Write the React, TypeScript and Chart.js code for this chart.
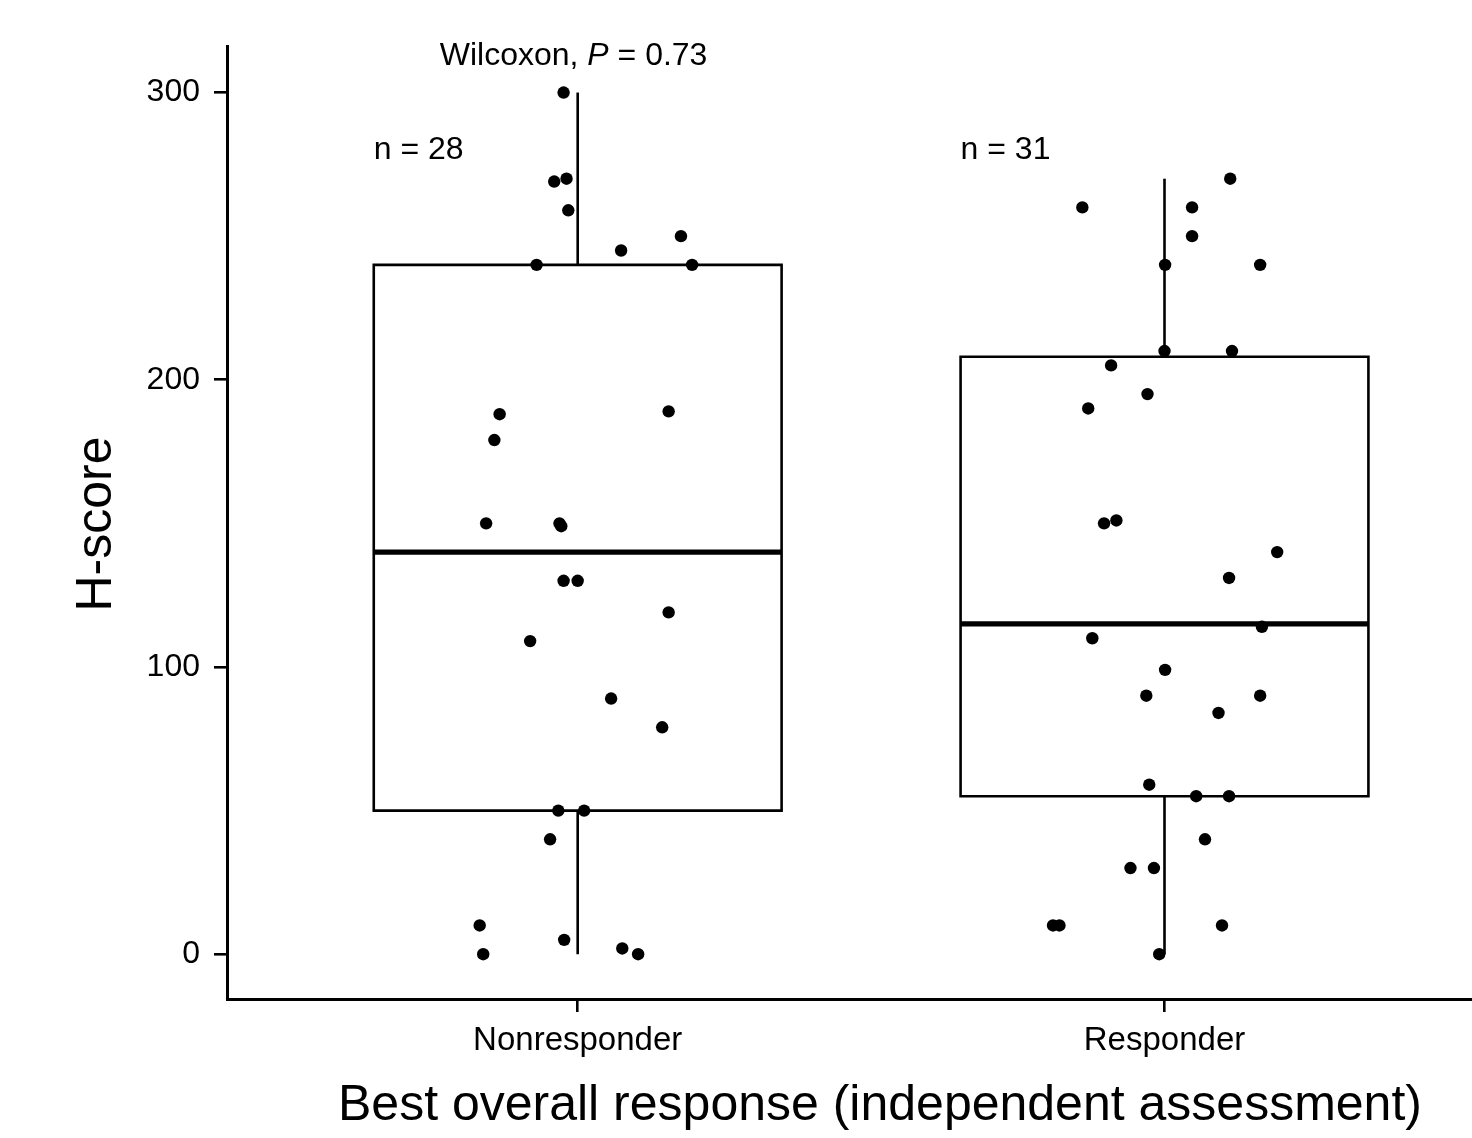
import React, { useEffect, useRef } from "react";
import { Chart, registerables } from "chart.js";

Chart.register(...registerables);

// ---------- data ----------
const categories = ["Nonresponder", "Responder"];
const groupCountLabels = ["n = 28", "n = 31"];
const testName = "Wilcoxon, ";
const testStatSymbol = "P";
const testResult = " = 0.73";
const yTickValues = [0, 100, 200, 300];
const xTitle = "Best overall response (independent assessment)";
const yTitle = "H-score";

const nonresponderValues = [
  300, 269, 270, 259, 245, 250, 240, 240, 188, 189, 179, 150, 150, 149, 130,
  130, 119, 109, 89, 79, 50, 50, 40, 10, 5, 2, 0, 0,
];
const nonresponderJitter = [
  -0.024, -0.04, -0.019, -0.016, 0.074, 0.176, -0.07, 0.195, -0.133, 0.155,
  -0.142, -0.156, -0.031, -0.028, -0.024, 0.0, 0.155, -0.081, 0.057, 0.144,
  -0.033, 0.011, -0.047, -0.167, -0.023, 0.076, -0.161, 0.103,
];
const responderValues = [
  260, 260, 270, 250, 240, 240, 210, 210, 205, 195, 190, 150, 151, 140, 131,
  114, 110, 99, 90, 90, 84, 59, 55, 55, 40, 30, 30, 10, 10, 10, 0,
];
const responderJitter = [
  -0.14, 0.047, 0.112, 0.047, 0.001, 0.163, 0.0, 0.115, -0.091, -0.029, -0.13,
  -0.103, -0.082, 0.192, 0.11, 0.166, -0.123, 0.001, -0.031, 0.163, 0.092,
  -0.026, 0.054, 0.11, 0.069, -0.058, -0.018, -0.19, -0.179, 0.098, -0.009,
];

const boxWhiskerLow = [0, 0];
const boxQ1 = [50, 55];
const boxMedian = [140, 115];
const boxQ3 = [240, 208];
const boxWhiskerHigh = [300, 270];

// ---------- layout constants ----------
const FONT = '"Liberation Sans", Arial, Helvetica, sans-serif';
const BOX_HALF = 0.3475;
const X_MIN = -0.5976;
const X_MAX = 1.524;
const Y_MIN = -15.6;
const Y_MAX = 316.2;
const COUNT_LABEL_Y = 277;
const TEST_LABEL_Y = 309.7;

const groupValues = [nonresponderValues, responderValues];
const groupJitter = [nonresponderJitter, responderJitter];

function buildDatasets() {
  const ds: any[] = [];
  // points (drawn on top)
  groupValues.forEach((vals, g) => {
    ds.push({
      type: "scatter",
      label: categories[g] + " points",
      data: vals.map((v, i) => ({ x: g + groupJitter[g][i], y: v })),
      backgroundColor: "#000000",
      borderWidth: 0,
      pointRadius: 6.2,
      pointHoverRadius: 6.2,
      showLine: false,
      order: 0,
      clip: false,
    });
  });
  categories.forEach((_, g) => {
    const l = g - BOX_HALF;
    const r = g + BOX_HALF;
    const lineBase = {
      type: "scatter",
      showLine: true,
      borderColor: "#000000",
      backgroundColor: "#000000",
      pointRadius: 0,
      pointHoverRadius: 0,
      fill: false,
      tension: 0,
      order: 1,
    };
    ds.push({
      ...lineBase,
      label: categories[g] + " box",
      data: [
        { x: l, y: boxQ1[g] },
        { x: r, y: boxQ1[g] },
        { x: r, y: boxQ3[g] },
        { x: l, y: boxQ3[g] },
        { x: l, y: boxQ1[g] },
      ],
      borderWidth: 2.6,
      borderJoinStyle: "miter",
      borderCapStyle: "square",
    });
    ds.push({
      ...lineBase,
      label: categories[g] + " median",
      data: [
        { x: l, y: boxMedian[g] },
        { x: r, y: boxMedian[g] },
      ],
      borderWidth: 5.2,
      borderCapStyle: "butt",
    });
    ds.push({
      ...lineBase,
      label: categories[g] + " upper whisker",
      data: [
        { x: g, y: boxQ3[g] },
        { x: g, y: boxWhiskerHigh[g] },
      ],
      borderWidth: 2.6,
      borderCapStyle: "butt",
    });
    ds.push({
      ...lineBase,
      label: categories[g] + " lower whisker",
      data: [
        { x: g, y: boxQ1[g] },
        { x: g, y: boxWhiskerLow[g] },
      ],
      borderWidth: 2.6,
      borderCapStyle: "butt",
    });
  });
  return ds;
}

const annotationPlugin = {
  id: "textAnnotations",
  afterDraw(chart: any) {
    const { ctx, scales } = chart;
    const x = scales.x;
    const y = scales.y;
    ctx.save();
    ctx.fillStyle = "#000000";
    ctx.textBaseline = "alphabetic";

    // group counts
    ctx.font = `32px ${FONT}`;
    ctx.textAlign = "left";
    groupCountLabels.forEach((t, g) => {
      ctx.fillText(
        t,
        x.getPixelForValue(g - BOX_HALF),
        y.getPixelForValue(COUNT_LABEL_Y)
      );
    });

    // test label with italic P
    const regular = `32px ${FONT}`;
    const italic = `italic 32px ${FONT}`;
    ctx.font = regular;
    const w1 = ctx.measureText(testName).width;
    const w3 = ctx.measureText(testResult).width;
    ctx.font = italic;
    const w2 = ctx.measureText(testStatSymbol).width;
    const total = w1 + w2 + w3;
    let cx = x.getPixelForValue(-0.007) - total / 2;
    const by = y.getPixelForValue(TEST_LABEL_Y);
    ctx.textAlign = "left";
    ctx.font = regular;
    ctx.fillText(testName, cx, by);
    cx += w1;
    ctx.font = italic;
    ctx.fillText(testStatSymbol, cx, by);
    cx += w2;
    ctx.font = regular;
    ctx.fillText(testResult, cx, by);

    // axis titles
    ctx.font = `50px ${FONT}`;
    ctx.textAlign = "left";
    ctx.fillText(xTitle, 338, 1120);

    ctx.save();
    ctx.translate(111, 524);
    ctx.rotate(-Math.PI / 2);
    ctx.textAlign = "center";
    ctx.fillText(yTitle, 0, 0);
    ctx.restore();

    ctx.restore();
  },
};

export default function App() {
  const canvasRef = useRef<HTMLCanvasElement | null>(null);

  useEffect(() => {
    if (!canvasRef.current) return;
    Chart.defaults.font.family = FONT;
    const chart = new Chart(canvasRef.current, {
      type: "scatter",
      data: { datasets: buildDatasets() },
      options: {
        animation: false,
        responsive: true,
        maintainAspectRatio: false,
        events: [],
        layout: {
          autoPadding: false,
          padding: { top: 46, left: 0, right: 0, bottom: 0 },
        },
        plugins: {
          legend: { display: false },
          tooltip: { enabled: false },
          title: { display: false },
        },
        scales: {
          x: {
            type: "linear",
            min: X_MIN,
            max: X_MAX,
            afterBuildTicks: (scale: any) => {
              scale.ticks = categories.map((_, i) => ({ value: i }));
            },
            afterFit: (scale: any) => {
              scale.height = 139;
              scale.paddingLeft = 0;
              scale.paddingRight = 0;
            },
            ticks: {
              autoSkip: false,
              maxRotation: 0,
              minRotation: 0,
              padding: 9,
              color: "#000000",
              font: { size: 33, family: FONT },
              callback: (v: any) => categories[Math.round(Number(v))] ?? "",
            },
            grid: {
              display: true,
              drawOnChartArea: false,
              drawTicks: true,
              tickLength: 13,
              color: "#000000",
              lineWidth: 2.6,
            },
            border: { display: true, color: "#000000", width: 3 },
          },
          y: {
            type: "linear",
            min: Y_MIN,
            max: Y_MAX,
            afterBuildTicks: (scale: any) => {
              scale.ticks = yTickValues.map((v) => ({ value: v }));
            },
            afterFit: (scale: any) => {
              scale.width = 227;
              scale.paddingTop = 0;
              scale.paddingBottom = 0;
            },
            ticks: {
              autoSkip: false,
              padding: 14,
              color: "#000000",
              font: { size: 32, family: FONT },
              callback: (v: any) => String(v),
            },
            grid: {
              display: true,
              drawOnChartArea: false,
              drawTicks: true,
              tickLength: 13,
              color: "#000000",
              lineWidth: 2.6,
            },
            border: { display: true, color: "#000000", width: 3 },
          },
        },
      } as any,
      plugins: [annotationPlugin],
    });
    return () => chart.destroy();
  }, []);

  return (
    <div
      style={{
        position: "fixed",
        left: 0,
        top: 0,
        width: 1472,
        height: 1138,
        background: "#ffffff",
      }}
    >
      <canvas ref={canvasRef} />
    </div>
  );
}
